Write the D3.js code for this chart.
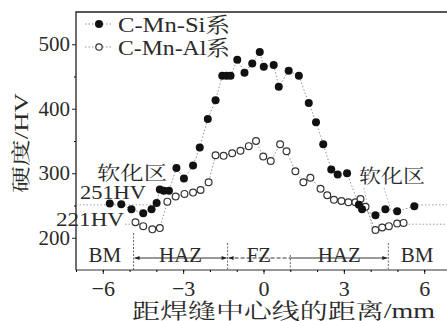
<!DOCTYPE html>
<html>
<head>
<meta charset="utf-8">
<script src="https://cdn.jsdelivr.net/npm/d3@7"></script>
<style>
  body { margin: 0; background: #fff; }
  text { font-family: "Liberation Serif", "Noto Serif CJK SC", "Noto Sans CJK SC", serif; fill: #2a2a2a; }
</style>
</head>
<body>
<div id="chart"></div>
<script>

// hardness data
var siX = [-5.74, -5.31, -4.93, -4.49, -4.18, -3.99, -3.87, -3.72, -3.53, -3.25, -2.97, -2.63, -2.38, -2.08, -1.79, -1.54, -1.38, -1.23, -0.98, -0.71, -0.42, -0.14, 0.01, 0.38, 0.57, 0.94, 1.32, 1.69, 1.96, 2.23, 2.53, 2.77, 3.12, 3.56, 3.68, 4.18, 4.55, 4.99, 5.63];
var siY = [253, 252, 244, 238, 244, 254, 275, 273, 273, 308, 292, 312, 340, 384, 413, 451, 451, 451, 476, 456, 470, 488, 465, 468, 434, 459, 451, 409, 379, 345, 306, 298, 300, 251, 244, 235, 244, 241, 249];
var alX = [-4.78, -4.49, -4.15, -3.87, -3.59, -3.28, -2.95, -2.63, -2.35, -2.05, -1.79, -1.49, -1.17, -0.86, -0.55, -0.28, -0.01, 0.27, 0.62, 0.86, 1.19, 1.49, 1.75, 2.13, 2.38, 2.63, 2.91, 3.17, 3.43, 3.62, 3.81, 4.18, 4.43, 4.68, 4.99, 5.23];
var alY = [224, 218, 213, 215, 256, 264, 268, 270, 274, 286, 328, 327, 331, 335, 342, 350, 326, 319, 345, 334, 303, 286, 293, 276, 266, 259, 257, 255, 255, 260, 248, 212, 216, 218, 222, 223];

var seriesNames = ["C-Mn-Si系", "C-Mn-Al系"];
var xTicks = [-6, -3, 0, 3, 6];
var yTicks = [200, 300, 400, 500];
var zoneEdges = [-4.85, -1.34, 1.0, 4.66];
var zoneNames = ["BM", "HAZ", "FZ", "HAZ", "BM"];
var refLevels = [251, 221];
var refNames = ["251HV", "221HV"];

var width = 447, height = 321;
var plotLeft = 76, plotTop = 12, plotBottom = 270;

var svg = d3.select("#chart").append("svg")
  .attr("width", width)
  .attr("height", height);

var x = d3.scaleLinear().domain([-7, 7]).range([plotLeft, 451]);
var y = d3.scaleLinear().domain([150, 550]).range([plotBottom, plotTop]);

// frame
svg.append("path")
  .attr("d", "M" + plotLeft + "," + plotBottom + "V" + plotTop + "H" + width)
  .style("fill", "none").style("stroke", "#222").style("stroke-width", 1.3);
svg.append("line")
  .attr("x1", plotLeft).attr("x2", width)
  .attr("y1", plotBottom).attr("y2", plotBottom)
  .style("stroke", "#333").style("stroke-width", 1.2);

// axes
var yAxis = d3.axisLeft(y).tickValues(yTicks).tickSize(4).tickPadding(2);
var yG = svg.append("g").attr("transform", "translate(" + plotLeft + ",0)").call(yAxis);
yG.select(".domain").remove();
yG.selectAll("text").style("font-size", "21px").style("font-family", "Liberation Serif").attr("fill", "#2a2a2a");
yG.selectAll("line").style("stroke", "#222");

var yMinor = d3.axisLeft(y).tickValues(d3.range(250, 550, 100)).tickSize(2).tickFormat("");
var yMG = svg.append("g").attr("transform", "translate(" + plotLeft + ",0)").call(yMinor);
yMG.select(".domain").remove();

var xAxis = d3.axisBottom(x).tickValues(xTicks).tickSize(4).tickPadding(6)
  .tickFormat(function(d) { return d < 0 ? "\u2212" + (-d) : d; });
var xG = svg.append("g").attr("transform", "translate(0," + plotBottom + ")").call(xAxis);
xG.select(".domain").remove();
xG.selectAll("text").style("font-size", "22px").style("font-family", "Liberation Serif").attr("fill", "#2a2a2a");
xG.selectAll("line").style("stroke", "#222");

var xMinor = d3.axisBottom(x).tickValues(d3.range(-7, 8, 1)).tickSize(2).tickFormat("");
var xMG = svg.append("g").attr("transform", "translate(0," + plotBottom + ")").call(xMinor);
xMG.select(".domain").remove();

// axis titles
svg.append("text")
  .attr("x", 132).attr("y", 318)
  .attr("textLength", 303).attr("lengthAdjust", "spacingAndGlyphs")
  .style("font-size", "21px")
  .text("距焊缝中心线的距离/mm");

svg.append("text")
  .attr("transform", "translate(28,143)rotate(-90)")
  .attr("text-anchor", "middle")
  .attr("textLength", 100).attr("lengthAdjust", "spacingAndGlyphs")
  .style("font-size", "19px")
  .text("硬度/HV");

// reference hardness levels
var refSpans = [[[plotLeft, 160], [418, width]], [[125, 140], [405, width]]];
refLevels.forEach(function(v, i) {
  refSpans[i].forEach(function(s) {
    svg.append("line")
      .attr("x1", s[0]).attr("x2", s[1])
      .attr("y1", y(v)).attr("y2", y(v))
      .style("stroke", "#888").style("stroke-width", 0.8)
      .style("stroke-dasharray", "1.5,2");
  });
});
svg.append("text").attr("x", 80).attr("y", y(refLevels[0]) - 6)
  .attr("textLength", 66).attr("lengthAdjust", "spacingAndGlyphs")
  .style("font-size", "19px").text(refNames[0]);
svg.append("text").attr("x", 56).attr("y", y(refLevels[1]) + 2)
  .attr("textLength", 68).attr("lengthAdjust", "spacingAndGlyphs")
  .style("font-size", "19px").text(refNames[1]);

// softening zone labels with leaders
svg.append("text").attr("x", 97).attr("y", 180)
  .attr("textLength", 70).attr("lengthAdjust", "spacingAndGlyphs")
  .style("font-size", "19px").text("软化区");
svg.append("text").attr("x", 359).attr("y", 183)
  .attr("textLength", 66).attr("lengthAdjust", "spacingAndGlyphs")
  .style("font-size", "19px").text("软化区");
[[364, 188, 372, 228], [384, 188, 391, 210]].forEach(function(l) {
  svg.append("line")
    .attr("x1", l[0]).attr("y1", l[1]).attr("x2", l[2]).attr("y2", l[3])
    .style("stroke", "#999").style("stroke-width", 0.8)
    .style("stroke-dasharray", "1.5,2");
});

// zone band at the bottom
var bandY = 258;
var zoneTop = [233, 243, 255, 243];
zoneEdges.forEach(function(e, i) {
  svg.append("line")
    .attr("x1", x(e)).attr("x2", x(e))
    .attr("y1", zoneTop[i]).attr("y2", plotBottom)
    .style("stroke", "#555").style("stroke-width", 0.9)
    .style("stroke-dasharray", "2,1.5");
});

svg.append("defs").append("marker")
  .attr("id", "arr")
  .attr("viewBox", "0 0 10 10")
  .attr("refX", 10).attr("refY", 5)
  .attr("markerWidth", 7).attr("markerHeight", 5)
  .attr("orient", "auto-start-reverse")
  .append("path").attr("d", "M0,1L10,5L0,9Z").style("fill", "#222");

svg.append("line")
  .attr("x1", x(zoneEdges[0]) + 1).attr("x2", x(zoneEdges[1]) - 1)
  .attr("y1", bandY).attr("y2", bandY)
  .style("stroke", "#333").style("stroke-width", 1)
  .attr("marker-start", "url(#arr)").attr("marker-end", "url(#arr)");
svg.append("line")
  .attr("x1", x(zoneEdges[1]) + 1).attr("x2", x(zoneEdges[2]))
  .attr("y1", bandY).attr("y2", bandY)
  .style("stroke", "#333").style("stroke-width", 1)
  .style("stroke-dasharray", "4,2")
  .attr("marker-start", "url(#arr)");
svg.append("line")
  .attr("x1", x(zoneEdges[2])).attr("x2", x(zoneEdges[3]) - 1)
  .attr("y1", bandY).attr("y2", bandY)
  .style("stroke", "#333").style("stroke-width", 1)
  .attr("marker-end", "url(#arr)");

var bounds = [-7].concat(zoneEdges).concat([7]);
zoneNames.forEach(function(n, i) {
  var cx = (x(bounds[i]) + x(bounds[i + 1])) / 2;
  if (i === 4) cx = 417;
  svg.append("text")
    .attr("x", cx).attr("y", 262)
    .attr("text-anchor", "middle")
    .style("font-size", "21px")
    .text(n);
});

// series lines
var line = d3.line().x(function(d) { return x(d[0]); }).y(function(d) { return y(d[1]); });
var siData = d3.zip(siX, siY);
var alData = d3.zip(alX, alY);

[siData, alData].forEach(function(data) {
  svg.append("path")
    .datum(data)
    .attr("d", line)
    .style("fill", "none")
    .style("stroke", "#777")
    .style("stroke-width", 0.8)
    .style("stroke-dasharray", "1.5,2");
});

svg.selectAll(".al")
  .data(alData)
  .enter().append("circle")
  .attr("class", "al")
  .attr("cx", function(d) { return x(d[0]); })
  .attr("cy", function(d) { return y(d[1]); })
  .attr("r", 3.4)
  .style("fill", "#fff")
  .style("stroke", "#333")
  .style("stroke-width", 1.2);

svg.selectAll(".si")
  .data(siData)
  .enter().append("circle")
  .attr("class", "si")
  .attr("cx", function(d) { return x(d[0]); })
  .attr("cy", function(d) { return y(d[1]); })
  .attr("r", 4)
  .style("fill", "#111");

// legend
var legendY = [24, 47];
seriesNames.forEach(function(n, i) {
  svg.append("line")
    .attr("x1", 85).attr("x2", 112)
    .attr("y1", legendY[i]).attr("y2", legendY[i])
    .style("stroke", "#777").style("stroke-width", 0.8)
    .style("stroke-dasharray", "1.5,2");
  svg.append("circle")
    .attr("cx", 99).attr("cy", legendY[i])
    .attr("r", i === 0 ? 4 : 3.2)
    .style("fill", i === 0 ? "#111" : "#fff")
    .style("stroke", "#333").style("stroke-width", i === 0 ? 0 : 1.2);
  svg.append("text")
    .attr("x", 118).attr("y", legendY[i] + 8)
    .attr("textLength", 112).attr("lengthAdjust", "spacingAndGlyphs")
    .style("font-size", "21px")
    .text(n);
});

</script>
</body>
</html>
